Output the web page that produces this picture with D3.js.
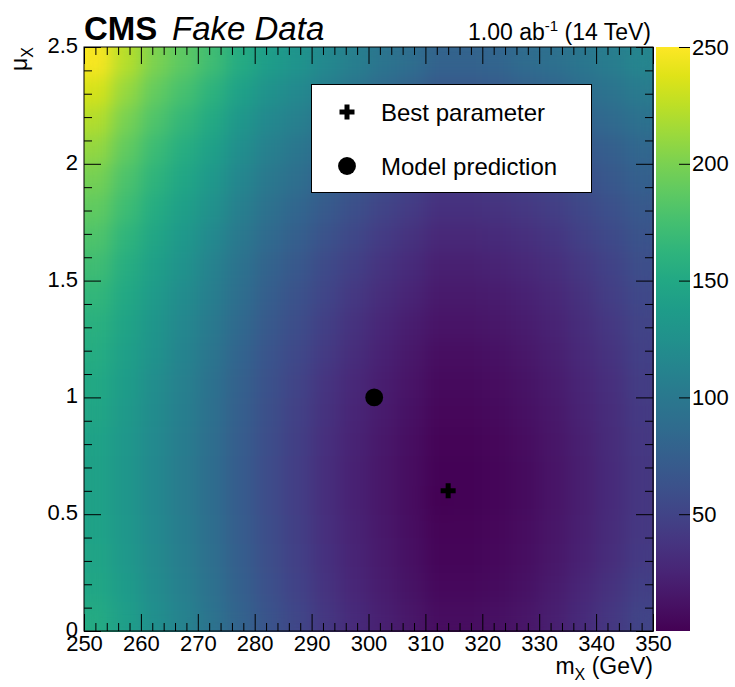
<!DOCTYPE html>
<html><head><meta charset="utf-8">
<script src="https://cdn.jsdelivr.net/npm/d3@7"></script>
<style>
body{margin:0;background:#fff}
svg{display:block}
text{font-family:"Liberation Sans",Arial,Helvetica,sans-serif;fill:#000}
</style>
</head><body>
<svg id="chart" width="735" height="687"></svg>
<script>
// ---- data ----
const massBins = [252.5,257.5,262.5,267.5,272.5,277.5,282.5,287.5,292.5,297.5,302.5,307.5,312.5,317.5,322.5,327.5,332.5,337.5,342.5,347.5];
const muBins = [0.0625,0.1875,0.3125,0.4375,0.5625,0.6875,0.8125,0.9375,1.0625,1.1875,1.3125,1.4375,1.5625,1.6875,1.8125,1.9375,2.0625,2.1875,2.3125,2.4375];
// one row per mu bin (bottom to top), one value per mass bin
const chi2Rows = [
  [152,139,124,110,95,79,64,52,40,30,22,15,8,8,10,14,21,30,40,50],
  [148,136,121,107,92,76,61,49,37,27,19,12,5,5,7,11,18,27,36,46],
  [146,133,119,105,90,74,59,47,35,25,17,10,3,3,5,9,15,23,32,42],
  [144,132,118,104,89,73,58,46,34,24,16,9,2,2,4,8,14,22,31,41],
  [143,131,117,103,88,72,57,45,33,23,15,8,0,1,3,7,13,21,30,40],
  [143,131,117,103,88,72,57,45,33,23,15,8,1,1,3,7,13,21,30,40],
  [144,132,118,104,89,73,58,46,34,24,16,9,2,2,4,8,14,22,31,41],
  [147,134,120,106,91,75,60,48,36,26,18,11,4,4,6,10,16,24,32,42],
  [150,137,122,108,93,77,62,50,38,28,20,13,6,6,8,12,18,26,34,44],
  [154,140,126,112,97,80,65,54,42,32,23,16,9,9,11,15,21,29,37,47],
  [159,145,130,116,101,84,69,58,46,36,27,20,13,13,15,19,24,32,41,50],
  [165,150,135,121,106,89,74,63,51,41,32,25,17,17,19,23,28,36,45,54],
  [172,156,140,126,111,94,79,68,56,46,37,30,22,22,24,28,33,41,49,59],
  [180,163,147,133,118,100,85,75,63,53,43,36,28,28,30,34,39,47,55,64],
  [189,171,154,140,125,107,92,82,70,60,50,43,35,35,37,41,45,53,61,69],
  [198,179,162,148,133,115,100,90,78,68,58,51,42,42,44,48,52,60,68,76],
  [209,189,170,156,141,123,108,98,86,76,66,59,50,50,52,56,60,68,75,83],
  [221,199,180,166,151,132,117,108,96,86,75,68,59,59,61,66,70,78,85,93],
  [234,210,190,176,161,142,127,118,106,96,85,78,68,68,70,76,80,88,95,103],
  [248,222,201,187,172,153,138,129,117,107,96,89,79,79,81,87,91,98,105,114]
];
const xTicks = [250,260,270,280,290,300,310,320,330,340,350];
const yTicks = [0,0.5,1,1.5,2,2.5];
const zTicks = [50,100,150,200,250];
const bestParameter = {m:314, mu:0.6};
const modelPrediction = {m:301, mu:1.0};
const legendLabels = ["Best parameter","Model prediction"];

// ---- layout ----
const L=84, R=653, T=47, B=631;
const svg = d3.select("#chart");
const x = d3.scaleLinear().domain([250,350]).range([L,R]);
const y = d3.scaleLinear().domain([0,2.5]).range([B,T]);
const zMax = 250;
const color = d3.scaleSequential(d3.interpolateViridis).domain([0,zMax]);
const z = d3.scaleLinear().domain([0,zMax]).range([B,T]);

const defs = svg.append("defs");
// soften the bin edges (visual only), keep the map fully opaque inside its box
const flt = defs.append("filter").attr("id","smooth").attr("x",0).attr("y",0).attr("width",1).attr("height",1)
  .attr("color-interpolation-filters","sRGB");
flt.append("feGaussianBlur").attr("stdDeviation",9).attr("edgeMode","duplicate");
flt.append("feComponentTransfer").append("feFuncA").attr("type","discrete").attr("tableValues","1");

const dm = (massBins[1]-massBins[0])/2, dmu = (muBins[1]-muBins[0])/2;
const cells = [];
chi2Rows.forEach((row,j)=>row.forEach((v,i)=>cells.push({m:massBins[i],mu:muBins[j],v})));
svg.append("g").attr("filter","url(#smooth)").selectAll("rect").data(cells).join("rect")
  .attr("shape-rendering","crispEdges")
  .attr("x",d=>x(d.m-dm)).attr("y",d=>y(d.mu+dmu))
  .attr("width",d=>x(d.m+dm)-x(d.m-dm)+0.5).attr("height",d=>y(d.mu-dmu)-y(d.mu+dmu)+0.5)
  .attr("fill",d=>color(d.v));

// ---- axes ----
const majLen=17, minLen=8, fs=22;
const xMinor = d3.range(250,351,2).filter(v=>v%10!==0);
const yMinor = d3.range(0,26,1).map(v=>v/10).filter(v=>Math.abs(v*2-Math.round(v*2))>1e-6);
function styleAxis(g){g.select(".domain").remove();g.selectAll("line").attr("stroke","#000");g.selectAll("text").attr("font-size",fs).attr("font-family","Liberation Sans, Arial, sans-serif");}
svg.append("g").attr("transform",`translate(0,${B})`)
  .call(d3.axisBottom(x).tickValues(xTicks).tickSize(-majLen).tickPadding(4).tickFormat(d3.format("d"))).call(styleAxis);
svg.append("g").attr("transform",`translate(0,${B})`)
  .call(d3.axisBottom(x).tickValues(xMinor).tickSize(-minLen).tickFormat("")).call(styleAxis);
svg.append("g").attr("transform",`translate(0,${T})`)
  .call(d3.axisTop(x).tickValues(xTicks).tickSize(-majLen).tickFormat("")).call(styleAxis);
svg.append("g").attr("transform",`translate(0,${T})`)
  .call(d3.axisTop(x).tickValues(xMinor).tickSize(-minLen).tickFormat("")).call(styleAxis);
svg.append("g").attr("transform",`translate(${L},0)`)
  .call(d3.axisLeft(y).tickValues(yTicks).tickSize(-majLen).tickPadding(6).tickFormat(d=>String(d))).call(styleAxis)
  .selectAll("text").attr("dy","0.25em");
svg.append("g").attr("transform",`translate(${L},0)`)
  .call(d3.axisLeft(y).tickValues(yMinor).tickSize(-minLen).tickFormat("")).call(styleAxis);
svg.append("g").attr("transform",`translate(${R},0)`)
  .call(d3.axisRight(y).tickValues(yTicks).tickSize(-majLen).tickFormat("")).call(styleAxis);
svg.append("g").attr("transform",`translate(${R},0)`)
  .call(d3.axisRight(y).tickValues(yMinor).tickSize(-minLen).tickFormat("")).call(styleAxis);
svg.append("rect").attr("x",L).attr("y",T).attr("width",R-L).attr("height",B-T)
  .attr("fill","none").attr("stroke","#000").attr("stroke-width",1);

// ---- colour bar ----
const cbL=656, cbR=690;
const grad = defs.append("linearGradient").attr("id","cb").attr("x1",0).attr("x2",0).attr("y1",1).attr("y2",0);
d3.range(0,1.0001,0.05).forEach(t=>grad.append("stop").attr("offset",t).attr("stop-color",color(t*zMax)));
svg.append("rect").attr("x",cbL).attr("y",T).attr("width",cbR-cbL).attr("height",B-T).attr("fill","url(#cb)");
svg.append("g").attr("transform",`translate(${cbR},0)`)
  .call(d3.axisRight(z).tickValues(zTicks).tickSize(-11).tickPadding(3).tickFormat(d3.format("d"))).call(styleAxis)
  .selectAll("text").attr("x",2);

// ---- axis titles ----
const xt = svg.append("text").attr("x",R).attr("y",674).attr("text-anchor","end").attr("font-size",23);
xt.append("tspan").text("m");
xt.append("tspan").attr("font-size",16).attr("dy",6).text("X");
xt.append("tspan").attr("dy",-6).text(" (GeV)");
const yt = svg.append("text").attr("transform",`translate(27,${T}) rotate(-90)`).attr("text-anchor","end").attr("font-size",23);
yt.append("tspan").text("μ");
yt.append("tspan").attr("font-size",16).attr("dy",6).text("X");

// ---- header ----
svg.append("text").attr("x",L).attr("y",40).attr("font-size",33).attr("font-weight","bold").text("CMS");
svg.append("text").attr("x",172).attr("y",40).attr("font-size",33).attr("font-style","italic").text("Fake Data");
const lumi = svg.append("text").attr("x",651).attr("y",40).attr("text-anchor","end").attr("font-size",23);
lumi.append("tspan").text("1.00 ab");
lumi.append("tspan").attr("font-size",15).attr("dy",-9).text("-1");
lumi.append("tspan").attr("dy",9).text(" (14 TeV)");

// ---- markers ----
const crossSym = d3.symbol().type(d3.symbolCross).size(125);
const circSym = d3.symbol().type(d3.symbolCircle).size(250);
svg.append("path").attr("d",circSym()).attr("transform",`translate(${x(modelPrediction.m)},${y(modelPrediction.mu)})`).attr("fill","#000");
svg.append("path").attr("d",crossSym()).attr("transform",`translate(${x(bestParameter.m)},${y(bestParameter.mu)})`).attr("fill","#000");

// ---- legend ----
const lg = svg.append("g");
lg.append("rect").attr("x",311.5).attr("y",84.5).attr("width",280).attr("height",108).attr("fill","#fff").attr("stroke","#000").attr("stroke-width",1);
const legendY=[112,166];
lg.append("path").attr("d",crossSym()).attr("transform",`translate(347,${legendY[0]})`).attr("fill","#000");
lg.append("path").attr("d",circSym()).attr("transform",`translate(347,${legendY[1]})`).attr("fill","#000");
legendLabels.forEach((t,i)=>lg.append("text").attr("x",381).attr("y",legendY[i]).attr("dy","0.36em").attr("font-size",24).text(t));
</script>
</body></html>
